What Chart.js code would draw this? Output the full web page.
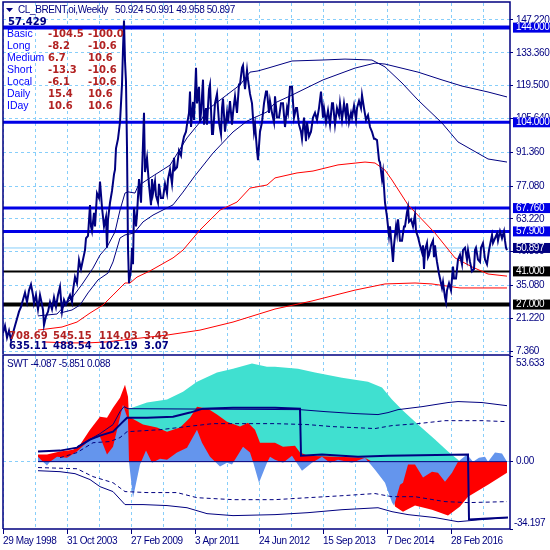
<!DOCTYPE html>
<html>
<head>
<meta charset="utf-8">
<style>
  html, body { margin: 0; padding: 0; background: #fff; }
  canvas { position: absolute; left: 0; }
  #priceChart { top: 0; }
  #swtChart { top: 354px; }
</style>
<script src="https://cdn.jsdelivr.net/npm/chart.js@4"></script>
</head>
<body>
<canvas id="priceChart" width="550" height="354"></canvas>
<canvas id="swtChart" width="550" height="196"></canvas>
<script>
'use strict';

// PRICE PANEL
const priceWeeks = [0,2,4,6,8,10,12,14,16,18,20,22,24,26,28,30,31,33,35,37,39,40,41,43,45,47,49,51,53,55,57,59,61,63,65,67,69,70,72,74,76,78,80,82,83,85,87,88,89,91,92,94,96,97,99,101,103,104,105,107,109,111,112,113,115,117,118,119,120,121,122,123,124,125,126,128,129,130,131,133,134,136,138,140,141,142,144,146,148,149,150,152,153,155,156,158,160,162,164,165,167,169,171,172,174,176,178,179,181,183,184,186,187,188,190,191,193,194,196,197,198,200,201,203,204,206,207,209,210,212,214,216,218,219,220,222,224,225,227,229,230,232,234,236,237,239,240,242,244,245,247,249,251,252,254,255,257,259,261,263,264,266,267,269,271,272,274,276,278,280,282,284,285,287,289,291,293,294,296,298,299,301,303,304,306,308,310,312,314,316,318,320,321,323,325,327,329,330,332,334,336,337,339,341,343,344,346,348,349,351,353,354,356,358,359,361,363,365,367,369,371,372,374,376,377,379,380,382,384,386,387,388,390,391,393,394,395,397,399,401,402,404,405,406,408,410,412,413,415,417,419,420,421,422,424,425,426,428,430,431,432,433,434,436,437,439,440,442,443,444,446,448,450,451,453,455,457,459,460,462,464,465,467,469,471,472,473,475,477,478,480,482,484,486,489,490,492,494,495,497,499,501,502,503,504];
const priceValues = [15,18,13,16,12,15,18,21,24,26,29,32,28,33,35.5,31,27.5,31,25,31,27,24.7,18.3,22,24,28,25,30,26,31,34.5,24,29,27,29,31,28,33,38.6,36,45.8,42,46,50,55,56,69,60,58,65.7,60,74,72,79,68,60,64,51,63,70,75,82,84,93,97,104,112,120,135,147,130,121,93,51,36,42,51,44,68,60,65,80,70,95,108,83,89,77.5,69,80,74,79,73,70,78,72,72,78,74,80,84,78,89,84,85,92,90,94,98,100,103,108,117,102,112.6,105,127,112,119,104,108,122,103,110,103,118,120,99,99,112,116,104,99,110,114,100,108,104,113,103,108,115,108,120,120,127,128,118,126,122,116,112,100,103,92,88,100,104,112,117,117,108,113,108,104,115,106,106,112,112,102,110,108,119,119,106,110,110,103,100,97,106,96,104,98,100,106,108,105,110,117,106,110,104,109,103,112,112,103,110,107,112,105,112,106,112,104,108,106,111,105,110,113,110,115.5,110,105,107,102,100,97,97,96.5,88,87,80,83,70,64,56,60,55,45,52,60,57,63,54,54,60,60,66,68,62,63,60,65,58,55.5,52,49,52,42,50,53,47,48,52,54,47,52,48,45,40,38,34,36.5,30,28,33,36,33,43,38,38,46,48,44,50,51,46,50,45,41,42,50,51,46,45,51,53,46,44,50,56.4,53,55,57,54,58,55,58,54,51,50];

const slowWeeks = [35,54,69,80,90,97,104,112,117,122,125,132,135,147,167,184,197,204,237,247,255,265,289,319,342,369,382,399,415,439,455,485,504];
const slowValues = [22.2,23,29.8,36.1,42.4,47.9,51.3,57.7,66.9,74.1,74.6,74.1,77.1,80.5,85.9,97.4,104.1,109.2,119.8,125.2,125.7,126.9,129.9,130.3,130.7,130.3,127.4,120.6,113.4,103.7,95.7,88.5,87.2];
const slowerWeeks = [57,69,77,85,95,105,110,117,122,131,140,150,170,180,191,210,230,244,264,272,289,320,352,372,382,415,439,459,485,504];
const slowerValues = [23.4,24.7,26.8,31.9,37.4,40.3,45,55.1,56.4,57.2,61.9,64.8,69.1,74.5,80.9,91,99.9,104.5,108.4,112.2,115.5,121.9,126.9,129,128.6,125.2,121.9,119.3,116.8,114.7];
const redFastWeeks = [35,59,74,87,100,110,122,127,134,147,170,180,197,217,234,247,264,272,294,310,335,362,372,382,389,405,432,452,469,485,504];
const redFastValues = [16.2,17.5,19.6,23.4,26.8,31,36.1,36.1,38.6,41.2,46.7,50,58.5,66.9,70.3,76.2,77.5,80.5,82.6,83.4,86,87.2,86.8,83.8,79.6,69.1,57.2,46.7,42.9,39.9,39];
const redSlowWeeks = [40,64,85,104,130,164,197,230,272,309,352,382,412,429,457,485,504];
const redSlowValues = [11.2,10.8,10.8,11.2,12.5,14.1,16.2,19.6,25.1,28.5,33.1,35.7,36.1,35.7,34,34,34];

const blueLevels = [144, 104, 67.76, 57.9];
const blackLevels = [41, 27];
const lastClose = 50.897;
const priceTicks = [147.22, 133.36, 119.5, 105.64, 91.36, 77.08, 63.22, 49.36, 35.08, 21.22, 7.36];

// SWT PANEL
const tealWeeks = [125,129,144,164,180,194,214,230,249,264,272,295,312,339,365,379,389,399,415,432,445,455,457];
const tealValues = [26.9,27.4,30,31.5,35.5,40.6,45.2,47.2,49.8,48.2,48.2,47.2,45.2,42.6,40.6,37.6,31.5,26.4,18.8,11.2,5.1,1,0];
const redWeeks = [35,44,57,70,77,87,97,104,110,117,122,125,126,140,154,164,177,187,194,205,214,224,237,245,252,257,272,280,292,297,305,362,369,389,392,400,412,429,445,457,465,485,504];
const redValues = [3.6,3.6,5.1,6.1,8.6,16.2,22.8,22.3,27.4,32.5,39.1,33,22.8,18.8,17.3,15.2,17.3,22.3,27.9,26.9,23.9,20.3,17.8,19.8,16.2,9.6,9.6,7.6,8.1,4.6,3,2,0,-14.2,-22.8,-25.4,-22.3,-24.4,-27.4,-22.8,-17.8,-11.7,-5.6];
const blueWeeks = [35,40,44,47,54,64,74,87,97,104,110,120,125,126,130,137,143,149,157,164,174,184,194,199,207,217,224,229,240,247,250,256,264,267,272,280,289,299,309,319,327,335,349,362,372,382,389,391,397,400,405,412,420,429,435,442,449,455,464,470,476,482,485,492,499,504];
const blueValues = [2.5,0,-2,0,2.5,2,5.1,11.2,12.7,3.6,7.6,28.9,21.3,0,-18.3,-1.5,5.6,-0.5,1.5,1,4.6,7.1,16.2,9.6,2.5,-2.5,-0.5,-1.5,7.6,4.6,0,-10.7,-0.5,2.5,1,-0.5,3,-4.6,-0.5,2.5,-0.5,1,-0.5,2,-4.1,-10.7,-20.8,-22.3,-11.7,-10.7,-1.5,-1.5,-8.1,-5.1,-5.6,-10.2,-5.6,0,3.6,0,2,2.5,0,4.6,4.1,0];
const signalWeeks = [35,57,74,87,97,110,119,124,144,170,187,200,230,272,297,298,319,355,385,465,466,485,505];
const signalValues = [5.1,5.6,7.1,11.2,13.2,15.2,19.8,22.3,22.3,22.8,24.9,26.9,27.4,27.4,26.9,3,3.6,2.5,3,3.6,-29.4,-28.9,-28.4];
const upperWeeks = [74,97,110,117,121,125,297,322,352,375,385,395,419,445,455,479,504];
const upperValues = [7.6,14.2,18.8,25.4,27.9,26.9,26.4,25.4,24.4,23.9,24.9,26.4,27.9,30,30.5,30,28.4];
const upperDashWeeks = [57,74,90,107,117,124,157,184,210,272,305,329,372,389,415,442,479,504];
const upperDashValues = [2,4.6,9.6,10.2,12.2,15.2,16.2,17.8,19.3,19.3,18.8,17.8,16.8,18.3,19.3,20.8,20.8,20.3];
const lowerWeeks = [35,57,72,87,97,110,122,140,164,184,204,230,272,305,339,375,389,405,432,455,479,504];
const lowerValues = [-4.6,-5.1,-6.1,-9.1,-12.7,-15.2,-21.8,-21.8,-22.3,-23.4,-26.4,-27.4,-26.9,-25.9,-24.4,-23.4,-25.4,-26.9,-28.4,-30.5,-29.4,-28.4];
const lowerDashWeeks = [35,74,90,110,122,144,174,194,230,272,305,339,372,389,412,442,465,504];
const lowerDashValues = [-3,-3.6,-7.6,-10.7,-15.2,-15.7,-15.7,-18.3,-19.3,-19.3,-18.3,-17.3,-16.2,-17.8,-17.8,-20.3,-20.8,-20.3];

const dateWeeks = [0, 64, 128, 192, 256, 320, 384, 448];
const dateLabels = ['29 May 1998', '31 Oct 2003', '27 Feb 2009', '3 Apr 2011', '24 Jun 2012', '15 Sep 2013', '7 Dec 2014', '28 Feb 2016'];
const gridWeeks = [0,32,64,96,128,160,192,224,256,288,320,352,384,416,448,480];
const swtTicks = [53.633, 0, -34.197];

// TEXT BLOCKS
const headerText = 'CL_BRENT,oi,Weekly';
const headerQuote = '50.924 50.991 49.958 50.897';
const spreadText = '57.429';
const rowNames = ['Basic', 'Long', 'Medium', 'Short', 'Local', 'Daily', 'IDay'];
const rowFirst = ['-104.5', '-8.2', '6.7', '-13.3', '-6.1', '15.4', '10.6'];
const rowSecond = ['-100.0', '-10.6', '10.6', '-10.6', '-10.6', '10.6', '10.6'];
const footRed = ['708.69', '545.15', '114.03', '3.42'];
const footNavy = ['635.11', '488.54', '102.19', '3.07'];
const swtTitle = 'SWT -4.087 -5.851 0.088';

const NAVY = '#000080';
const SKY = '#87CEFA';
const LEVEL_BLUE = '#0000E6';
const RED = '#FF0000';
const BRICK = '#B22222';
const FONT = '"Liberation Sans", sans-serif';
const BOLD_FONT = 'bold 10px "DejaVu Sans"';
const TIGHT = '-0.4px';

Chart.defaults.animation = false;
Chart.defaults.responsive = false;
Chart.defaults.devicePixelRatio = 1;

const zip = (xs, ys) => xs.map((x, i) => ({x: x, y: ys[i]}));
const flat = value => [{x: 0, y: value}, {x: 507, y: value}];

function lineSet(xs, ys, color, width, order, dash) {
  return {data: zip(xs, ys), borderColor: color, borderWidth: width, borderDash: dash || [],
          pointRadius: 0, tension: 0, fill: false, order: order};
}
function areaSet(xs, ys, color, order) {
  return {data: zip(xs, ys), borderColor: color, backgroundColor: color, borderWidth: 0,
          pointRadius: 0, tension: 0, fill: 'origin', order: order};
}
function levelSet(value, color, width, order) {
  return {data: flat(value), borderColor: color, borderWidth: width,
          pointRadius: 0, fill: false, order: order};
}

// the scales keep room for half a tick label, drop that so the panel fills its canvas
function noScalePadding(scale) {
  scale.paddingTop = 0;
  scale.paddingBottom = 0;
  scale.paddingLeft = 0;
  scale.paddingRight = 0;
}

function frame(chart, withBottom) {
  const c = chart.ctx, a = chart.chartArea;
  c.save();
  c.strokeStyle = NAVY;
  c.lineWidth = 1.5;
  c.beginPath();
  c.moveTo(a.left, a.bottom);
  c.lineTo(a.left, a.top - 1);
  c.lineTo(a.right, a.top - 1);
  c.lineTo(a.right, a.bottom);
  if (withBottom) c.lineTo(a.left, a.bottom);
  c.stroke();
  c.restore();
}

function priceBox(c, y, text, fill) {
  c.fillStyle = fill;
  c.fillRect(513, y - 5, 37, 10);
  c.fillStyle = '#fff';
  c.font = '10px ' + FONT;
  c.letterSpacing = TIGHT;
  c.textAlign = 'left';
  c.textBaseline = 'middle';
  c.fillText(text, 516, y);
}

const tightText = {
  id: 'tightText',
  beforeDraw(chart) { chart.ctx.letterSpacing = TIGHT; }
};

const priceOverlay = {
  id: 'priceOverlay',
  afterDraw(chart) {
    const c = chart.ctx, y = chart.scales.y;
    frame(chart, false);
    c.save();
    blueLevels.forEach(v => priceBox(c, y.getPixelForValue(v), v.toFixed(3), LEVEL_BLUE));
    blackLevels.forEach(v => priceBox(c, y.getPixelForValue(v), v.toFixed(3), '#000'));
    priceBox(c, y.getPixelForValue(lastClose), lastClose.toFixed(3), NAVY);

    c.textBaseline = 'middle';
    c.textAlign = 'left';
    c.fillStyle = NAVY;
    c.beginPath();
    c.moveTo(6, 8); c.lineTo(13, 8); c.lineTo(9.5, 12); c.closePath();
    c.fill();
    c.font = '10px ' + FONT;
    c.letterSpacing = TIGHT;
    c.fillText(headerText, 18, 10);
    c.fillText(headerQuote, 115, 10);
    c.letterSpacing = '0px';
    c.font = BOLD_FONT;
    c.fillText(spreadText, 8, 22);

    rowNames.forEach((name, i) => {
      const rowY = 34 + i * 12.1;
      c.font = '10.5px ' + FONT;
      c.fillStyle = '#0000FF';
      c.fillText(name, 7, rowY);
      c.font = BOLD_FONT;
      c.fillStyle = BRICK;
      c.fillText(rowFirst[i], 48, rowY);
      c.fillText(rowSecond[i], 88, rowY);
    });

    const footX = [9, 53, 99, 144];
    c.font = BOLD_FONT;
    footRed.forEach((t, i) => { c.fillStyle = BRICK; c.fillText(t, footX[i], 336); });
    footNavy.forEach((t, i) => { c.fillStyle = NAVY; c.fillText(t, footX[i], 346); });
    c.restore();
  }
};

const swtOverlay = {
  id: 'swtOverlay',
  afterDraw(chart) {
    const c = chart.ctx, a = chart.chartArea;
    frame(chart, true);
    c.save();
    c.fillStyle = NAVY;
    c.textBaseline = 'middle';
    c.textAlign = 'left';
    c.font = '10px ' + FONT;
    c.letterSpacing = TIGHT;
    c.fillText(swtTitle, 7, 10);
    c.fillText(swtTicks[0].toFixed(3), 516, a.top + 7);
    c.fillText(swtTicks[2].toFixed(3), 514, a.bottom - 6);
    c.restore();
  }
};

function weekAxis() {
  return {
    type: 'linear', min: 0, max: 507,
    afterBuildTicks: scale => { scale.ticks = gridWeeks.map(v => ({value: v})); },
    border: {display: false, dash: [3, 3]},
    grid: {color: SKY, tickColor: ctx => dateWeeks.includes(ctx.tick && ctx.tick.value) ? NAVY : 'transparent',
           tickLength: 5}
  };
}

const priceX = weekAxis();
priceX.ticks = {display: false};
priceX.grid.drawTicks = false;
priceX.afterFit = scale => { scale.height = 0; noScalePadding(scale); };

new Chart(document.getElementById('priceChart'), {
  type: 'line',
  data: {datasets: [
    lineSet(priceWeeks, priceValues, NAVY, 2, 1),
    lineSet(slowWeeks, slowValues, NAVY, 1, 2),
    lineSet(slowerWeeks, slowerValues, NAVY, 1, 2),
    lineSet(redFastWeeks, redFastValues, RED, 1, 2),
    lineSet(redSlowWeeks, redSlowValues, RED, 1, 2),
    levelSet(blueLevels[0], LEVEL_BLUE, 4, 3),
    levelSet(blueLevels[1], LEVEL_BLUE, 3, 3),
    levelSet(blueLevels[2], LEVEL_BLUE, 3, 3),
    levelSet(blueLevels[3], LEVEL_BLUE, 3, 3),
    levelSet(blackLevels[0], '#000', 2, 3),
    levelSet(blackLevels[1], '#000', 4, 3),
    levelSet(lastClose, SKY, 1, 4)
  ]},
  options: {
    layout: {autoPadding: false, padding: {top: 3, left: 3}},
    plugins: {legend: {display: false}, tooltip: {enabled: false}},
    scales: {
      x: priceX,
      y: {
        position: 'right', min: 6.1, max: 154.4,
        afterBuildTicks: scale => { scale.ticks = priceTicks.map(v => ({value: v})); },
        afterFit: scale => { scale.width = 40; noScalePadding(scale); },
        border: {display: false, dash: [3, 3]},
        grid: {color: SKY, tickColor: NAVY, tickLength: 3},
        ticks: {color: NAVY, padding: 3, font: {family: FONT, size: 10}, callback: v => v.toFixed(3)}
      }
    }
  },
  plugins: [tightText, priceOverlay]
});

const swtX = weekAxis();
swtX.afterFit = scale => { scale.height = 21; noScalePadding(scale); };
swtX.ticks = {
  color: NAVY, align: 'start', autoSkip: false, maxRotation: 0, padding: 1,
  font: {family: FONT, size: 10},
  callback: v => { const i = dateWeeks.indexOf(v); return i < 0 ? '' : dateLabels[i]; }
};

new Chart(document.getElementById('swtChart'), {
  type: 'line',
  data: {datasets: [
    lineSet(signalWeeks, signalValues, NAVY, 2, 1),
    lineSet(upperWeeks, upperValues, NAVY, 1, 2),
    lineSet(upperDashWeeks, upperDashValues, NAVY, 1, 2, [4, 3]),
    lineSet(lowerWeeks, lowerValues, NAVY, 1, 2),
    lineSet(lowerDashWeeks, lowerDashValues, NAVY, 1, 2, [4, 3]),
    {data: [{x: 35, y: 0}, {x: 504, y: 0}], borderColor: NAVY, borderWidth: 1, pointRadius: 0, fill: false, order: 3},
    areaSet(blueWeeks, blueValues, '#6495ED', 4),
    areaSet(redWeeks, redValues, RED, 5),
    areaSet(tealWeeks, tealValues, '#40E0D0', 6)
  ]},
  options: {
    layout: {autoPadding: false, padding: {top: 2, left: 3}},
    plugins: {legend: {display: false}, tooltip: {enabled: false}},
    scales: {
      x: swtX,
      y: {
        position: 'right', min: swtTicks[2], max: swtTicks[0],
        afterBuildTicks: scale => { scale.ticks = swtTicks.map(v => ({value: v})); },
        afterFit: scale => { scale.width = 40; noScalePadding(scale); },
        border: {display: false, dash: [3, 3]},
        grid: {color: ctx => ctx.tick && ctx.tick.value === 0 ? SKY : 'transparent',
               tickColor: NAVY, tickLength: 3},
        ticks: {color: NAVY, padding: 3, font: {family: FONT, size: 10},
                callback: v => v === 0 ? '0.00' : ''}
      }
    }
  },
  plugins: [tightText, swtOverlay]
});
</script>
</body>
</html>
